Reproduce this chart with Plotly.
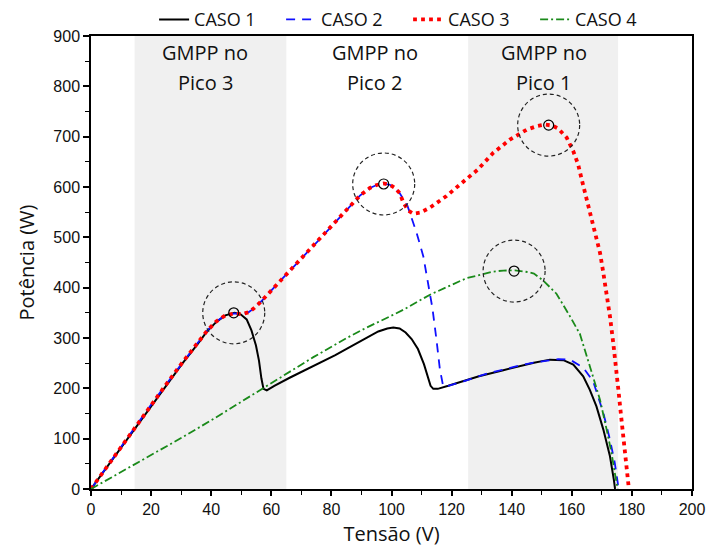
import plotly.graph_objects as go

# ---- data ----
V1 = [0, 5.1, 10.2, 15.2, 20.3, 25.4, 30.5, 35.6, 38.6, 41.7, 44.7, 47.8, 49.8, 51.8, 53.4, 54.9, 55.9,
      56.7, 57.4, 58.5, 61.0, 66.1, 71.2, 76.2, 81.3, 86.4, 91.5, 95.6, 98.6, 100.6, 102.7, 104.7, 106.7,
      108.8, 110.8, 112.1, 113.0, 113.9, 115.4, 118.9, 124.0, 129.1, 137.2, 142.3, 147.4, 152.7, 157.2,
      160.5, 163.8, 166.0, 168.2, 170.5, 172.7, 174.0, 174.4]
P1 = [0, 42, 84, 126, 168, 209, 250, 289, 313, 332, 345, 350, 347, 337, 315, 285, 255, 220, 199, 196,
      205, 221, 236, 251, 266, 283, 300, 313, 319, 321, 319, 311, 298, 278, 248, 225, 205, 199, 199,
      205, 214, 224, 236, 244, 251, 257, 256, 247, 224, 197, 164, 118, 65, 18, 0]

V2 = [0, 5.1, 10.2, 15.2, 20.3, 25.4, 30.5, 35.6, 38.6, 41.7, 44.7, 47.8, 50.1, 52.4, 54.0, 56.2, 61.8,
      66.1, 71.2, 76.2, 81.3, 85.4, 89.5, 92.8, 95.1, 97.3, 99.6, 101.2, 102.7, 105.3, 108.4, 110.6, 113.6,
      114.9, 116.1, 117.2, 118.9, 124.0, 129.1, 132.2, 137.2, 142.3, 147.4, 152.5, 155.5, 159.4, 163.8,
      167.1, 170.5, 172.7, 174.3, 175.3, 175.5]
P2 = [0, 43, 86, 128, 170, 211, 252, 291, 314, 333, 345, 349, 347, 351, 358, 370, 406, 433, 464, 497, 530, 557,
      583, 598, 604, 607, 604, 598, 588, 563, 508, 462, 360, 300, 238, 204, 205, 214,
      224, 230, 237, 245, 251, 256, 258, 257, 241, 214, 151, 98, 52, 12, 0]

V3 = [0, 5.1, 10.2, 15.2, 20.3, 25.4, 30.5, 35.6, 38.6, 41.7, 44.7, 47.8, 50.1, 52.4, 54.0, 56.2, 61.8,
      66.1, 71.2, 76.2, 81.3, 85.4, 89.5, 92.8, 95.1, 97.3, 99.6, 101.2, 102.7, 103.9, 105.6, 107.3, 109.5,
      112.8, 118.3, 123.0, 128.6, 133.9, 139.4, 145.0, 148.4, 151.0, 153.5, 155.5, 158.3, 160.5, 162.1,
      163.3, 164.7, 166.0, 167.1, 168.2, 169.4, 170.5, 171.6, 172.7, 173.8, 174.8, 175.5, 176.3, 177.1,
      178.0, 178.8, 179.0]
P3 = [0, 43, 86, 128, 170, 211, 252, 291, 314, 333, 345, 349, 347, 351, 358, 370, 406, 433, 464, 497, 530, 557,
      583, 598, 604, 607, 604, 598, 588, 570, 553, 547, 549, 559, 582, 606, 634, 668,
      694, 714, 721, 724, 722, 716, 698, 671, 645, 615, 582, 549, 522, 496, 469,
      429, 390, 343, 290, 244, 197, 151, 105, 52, 5, 0]

V4 = [0, 10.2, 20.3, 30.5, 40.7, 50.8, 57.2, 62.9, 74.0, 85.1, 91.5, 99.5, 103.9, 112.8, 118.9, 125.0,
      130.0, 133.9, 137.2, 141.1, 145.4, 147.4, 150.5, 153.0, 154.9, 159.4, 162.7, 166.0, 169.4, 171.6,
      173.2, 174.3, 175.2, 175.3]
P4 = [0, 34, 68, 103, 139, 176, 199, 220, 262, 300, 320, 343, 356, 386, 403, 419, 426, 432,
      434, 434.5, 431, 428, 414, 400, 388, 343, 308, 244, 177, 118, 72, 32, 2, 0]

series_names = ["CASO 1", "CASO 2", "CASO 3", "CASO 4"]

# shaded regions (V) and labels
regions = [(14.5, 65.0), (125.5, 175.4)]
label_x = [38.0, 94.5, 150.6]
label_line1 = ["GMPP no", "GMPP no", "GMPP no"]
label_line2 = ["Pico 3", "Pico 2", "Pico 1"]

# GMPP markers (V, P)
gmpp_V = [47.5, 97.4, 152.3, 140.8]
gmpp_P = [350, 606, 723, 433]

x_ticks = list(range(0, 201, 20))
y_ticks = list(range(0, 901, 100))

fig = go.Figure()

fig.add_trace(go.Scatter(x=V1, y=P1, mode="lines", name=series_names[0],
                         line=dict(color="black", width=2)))
fig.add_trace(go.Scatter(x=V2, y=P2, mode="lines", name=series_names[1],
                         line=dict(color="#1010ff", width=1.8, dash="9px,7px")))
fig.add_trace(go.Scatter(x=V3, y=P3, mode="lines", name=series_names[2],
                         line=dict(color="#ff0000", width=3.8, dash="3.8px,4.2px")))
fig.add_trace(go.Scatter(x=V4, y=P4, mode="lines", name=series_names[3],
                         line=dict(color="#1a8a1a", width=1.8, dash="8px,3px,2px,3px")))

shapes = []
for a, b in regions:
    shapes.append(dict(type="rect", xref="x", yref="paper", x0=a, x1=b, y0=0, y1=1,
                       fillcolor="#f0f0f0", line=dict(width=0), layer="below"))
for v, p in zip(gmpp_V, gmpp_P):
    shapes.append(dict(type="circle", xref="x", yref="y", xsizemode="pixel", ysizemode="pixel",
                       xanchor=v, yanchor=p, x0=-31, x1=31, y0=-31, y1=31,
                       line=dict(color="#222222", width=1.2, dash="4px,3px")))
    shapes.append(dict(type="circle", xref="x", yref="y", xsizemode="pixel", ysizemode="pixel",
                       xanchor=v, yanchor=p, x0=-5, x1=5, y0=-5, y1=5,
                       line=dict(color="black", width=1.2)))

annotations = []
for xv, t1, t2 in zip(label_x, label_line1, label_line2):
    for t, dy in ((t1, -16), (t2, -46)):
        annotations.append(dict(x=xv, y=1.0, xref="x", yref="paper", yanchor="middle", yshift=dy,
                                text=t, showarrow=False, align="center",
                                font=dict(family="Open Sans", size=20, color="#111111")))

# page body has an 8px default margin: figure is sized/placed to compensate
fig.update_layout(
    width=707, height=541,
    margin=dict(l=83, r=23, t=28, b=60, autoexpand=False),
    plot_bgcolor="white", paper_bgcolor="white",
    shapes=shapes, annotations=annotations,
    showlegend=True,
    legend=dict(orientation="h", x=0.105, xanchor="left", y=1.036, yanchor="middle",
                font=dict(family="Open Sans", size=18, color="#111111"),
                bgcolor="rgba(0,0,0,0)", tracegroupgap=0,
                entrywidth=82, entrywidthmode="pixels"),
    xaxis=dict(range=[0, 200], tickvals=x_ticks, ticks="outside", ticklen=5, tickwidth=1.5,
               tickcolor="black", showgrid=False, zeroline=False, showline=True, linecolor="black",
               linewidth=1.5, mirror=True,
               minor=dict(dtick=10, ticks="outside", ticklen=4, tickwidth=1.2, tickcolor="black"),
               tickfont=dict(family="Liberation Sans", size=16, color="#111111"),
               title=dict(text="Tensão (V)", font=dict(family="Open Sans", size=20, color="#111111"),
                          standoff=10)),
    yaxis=dict(range=[0, 900], tickvals=y_ticks, ticks="outside", ticklen=6, tickwidth=1.5,
               tickcolor="black", showgrid=False, zeroline=False, showline=True, linecolor="black",
               linewidth=1.5, mirror=True,
               minor=dict(dtick=50, ticks="outside", ticklen=4, tickwidth=1.2, tickcolor="black"),
               tickfont=dict(family="Liberation Sans", size=16, color="#111111"),
               title=dict(text="Potência (W)", font=dict(family="Open Sans", size=20, color="#111111"),
                          standoff=13)),
)

fig.write_html("out.html")
